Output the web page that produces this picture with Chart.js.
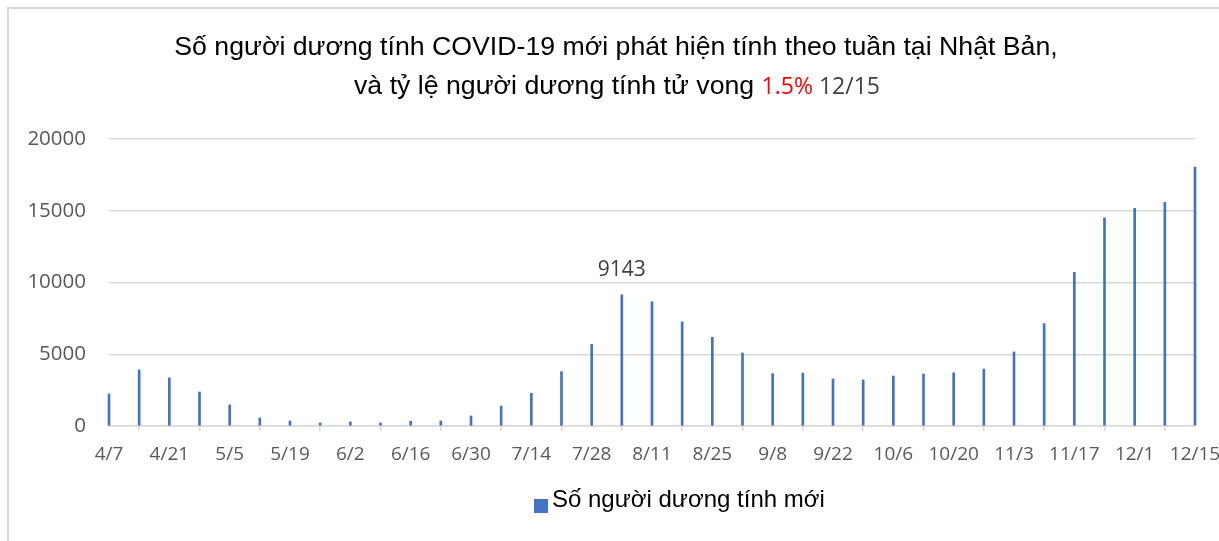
<!DOCTYPE html>
<html>
<head>
	<title>COVID-19 Nhật Bản</title>
	<script src="https://cdn.jsdelivr.net/npm/chart.js"></script>
	<style>
		body { margin: 0; background: #fff; }
		.frame { position: absolute; left: 7px; top: 7px; right: 0; bottom: 0; border-left: 2px solid #d9d9d9; border-top: 2px solid #d9d9d9; }
		.wrap { position: absolute; left: 0; top: 0; width: 1219px; height: 541px; }
	</style>
</head>
<body>
	<div class="frame"></div>
	<div class="wrap">
		<canvas id="myChart" width="1219" height="541"></canvas>
	</div>

<script>
    // weekly dates (every week, only every other one is labelled)
    const weeks = ['4/7','4/14','4/21','4/28','5/5','5/12','5/19','5/26','6/2','6/9','6/16','6/23',
                   '6/30','7/7','7/14','7/21','7/28','8/4','8/11','8/18','8/25','9/1','9/8','9/15',
                   '9/22','9/29','10/6','10/13','10/20','10/27','11/3','11/10','11/17','11/24','12/1','12/8','12/15'];
    const newCases = [2230, 3900, 3350, 2370, 1460, 560, 350, 210, 280, 210, 330, 350,
                      700, 1390, 2280, 3790, 5690, 9143, 8660, 7250, 6180, 5090, 3650, 3690,
                      3280, 3210, 3480, 3620, 3710, 3970, 5160, 7130, 10710, 14500, 15170, 15590, 18050];
    const yTicks = [0, 5000, 10000, 15000, 20000];
    const seriesName = 'Số người dương tính mới';
    const titleLine1 = 'Số người dương tính COVID-19 mới phát hiện tính theo tuần tại Nhật Bản,';
    const titleLine2 = ['và tỷ lệ người dương tính tử vong ', '1.5%', ' 12/15'];
    const labelIndex = 17; // 9143 peak

    const ctx = document.getElementById('myChart');
    const sans = '"Liberation Sans", Arial, sans-serif';
    const ui = '"Open Sans", sans-serif';

    // title (two lines, one red piece) + legend + the 9143 label
    const extras = {
      id: 'extras',
      afterDraw(chart) {
        const c = chart.ctx;
        c.save();
        c.textBaseline = 'alphabetic';
        c.fillStyle = '#000';
        c.font = '26.7px ' + sans;
        c.textAlign = 'center';
        c.fillText(titleLine1, 616, 55);

        // second line: plain text, then red percent, then the date in grey
        c.textAlign = 'left';
        c.font = '26.7px ' + sans;
        const w0 = c.measureText(titleLine2[0]).width;
        c.font = '23px ' + ui;
        const w1 = c.measureText(titleLine2[1]).width;
        const w2 = c.measureText(titleLine2[2]).width;
        let x = 617 - (w0 + w1 + w2) / 2;
        c.font = '26.7px ' + sans;
        c.fillStyle = '#000'; c.fillText(titleLine2[0], x, 94); x += w0;
        c.font = '23px ' + ui;
        c.fillStyle = '#ff0000'; c.fillText(titleLine2[1], x, 94); x += w1;
        c.fillStyle = '#404040'; c.fillText(titleLine2[2], x, 94);

        // data label
        const bar = chart.getDatasetMeta(0).data[labelIndex];
        c.textAlign = 'center';
        c.textBaseline = 'middle';
        c.font = '21px ' + ui;
        c.fillStyle = '#404040';
        c.fillText(String(newCases[labelIndex]), bar.x, bar.y - 25);

        // legend
        c.textBaseline = 'alphabetic';
        c.fillStyle = '#4472C4';
        c.fillRect(534, 499, 14, 14);
        c.fillStyle = '#000';
        c.textAlign = 'left';
        c.font = '24px ' + sans;
        c.fillText(seriesName, 552, 507);
        c.restore();
      }
    };

    new Chart(ctx, {
      type: 'bar',
      data: {
        labels: weeks,
        datasets: [{
          label: seriesName,
          data: newCases,
          backgroundColor: '#4472C4',
          barThickness: 2,
          clip: false
        }]
      },
      plugins: [extras],
      options: {
        responsive: false,
        animation: false,
        layout: { padding: { top: 139, right: 24, bottom: 75, left: 0 } },
        plugins: {
          legend: { display: false },
          title: { display: false },
          tooltip: { enabled: false }
        },
        scales: {
          x: {
            offset: false,
            grid: { display: true, drawOnChartArea: false, tickLength: 5, color: '#d9d9d9', lineWidth: 1.5 },
            border: { display: true, color: '#d9d9d9', width: 1.5 },
            ticks: {
              autoSkip: false, maxRotation: 0, padding: 12,
              color: '#595959', font: { family: ui, size: 19 },
              callback: (v, i) => (i % 2 === 0 ? weeks[i] : null)
            },
            afterFit: s => { s.height = 40; s.paddingLeft = 0; s.paddingRight = 0; }
          },
          y: {
            min: yTicks[0],
            max: yTicks[yTicks.length - 1],
            afterBuildTicks: s => { s.ticks = yTicks.map(v => ({ value: v })); },
            grid: { color: '#d9d9d9', lineWidth: 1.5, drawTicks: false },
            border: { display: false },
            ticks: { padding: 23, color: '#595959', font: { family: ui, size: 20.5 }, callback: v => String(v) },
            afterFit: s => { s.width = 109; }
          }
        }
      }
    });
</script>
</body>
</html>
